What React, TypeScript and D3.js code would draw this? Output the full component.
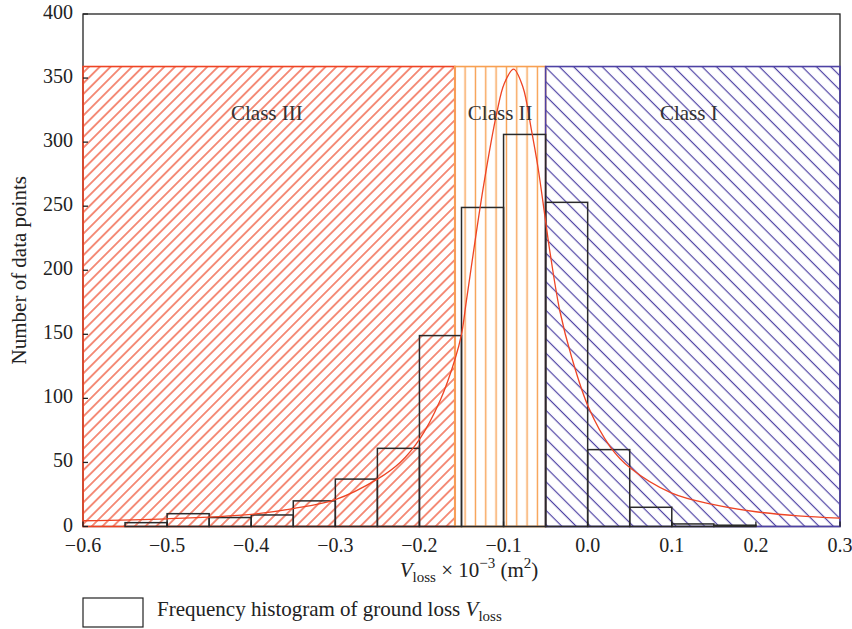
import React from "react";
import * as d3 from "d3";

// Histogram of ground loss (bin start, count), bin width 0.05
const binStarts = [-0.55, -0.5, -0.45, -0.4, -0.35, -0.3, -0.25, -0.2, -0.15, -0.1, -0.05, 0.0, 0.05, 0.1, 0.15];
const binCounts = [3, 10, 7, 9, 20, 37, 61, 149, 249, 306, 253, 60, 15, 2, 1];
const binWidth = 0.05;

// Fitted distribution curve
const fitX = [-0.6, -0.5, -0.4, -0.35, -0.3, -0.25, -0.223, -0.2, -0.175, -0.158, -0.15, -0.144, -0.124, -0.108, -0.099, -0.088, -0.077, -0.067, -0.059, -0.051, -0.045, -0.033, -0.019, 0.001, 0.027, 0.05, 0.1, 0.15, 0.2, 0.25, 0.3];
const fitY = [4.5, 6, 9.5, 14, 21, 37, 50, 68, 99, 130, 150, 177, 265, 323, 346, 357, 343, 310, 280, 243, 215, 168, 132, 93, 62, 46, 26, 17, 11.5, 8.3, 6.5];

// Classification zones
const classNames = ["Class III", "Class II", "Class I"];
const classStart = [-0.6, -0.158, -0.05];
const classEnd = [-0.158, -0.05, 0.3];
const classHeight = 359;

const xTicks = [-0.6, -0.5, -0.4, -0.3, -0.2, -0.1, 0.0, 0.1, 0.2, 0.3];
const yTicks = [0, 50, 100, 150, 200, 250, 300, 350, 400];

const W = 852;
const H = 629;
const FONT = "'Liberation Serif', 'DejaVu Serif', serif";

const RED = "#ee4424";
const ORANGE = "#f7a052";
const BLUE = "#4e42a4";

export default function App() {
  const x = d3.scaleLinear().domain([-0.6, 0.3]).range([83, 840]);
  const y = d3.scaleLinear().domain([0, 400]).range([526.5, 14]);
  const fmt = d3.format(".1f");

  const line = d3
    .line<number>()
    .x((_, i) => x(fitX[i]))
    .y((d) => y(d))
    .curve(d3.curveCatmullRom.alpha(0.5));

  const zoneFill = ["url(#hatchRed)", "url(#hatchOrange)", "url(#hatchBlue)"];
  const zoneStroke = [RED, ORANGE, BLUE];
  const labelShift = [-2, 0, -4];

  const orangeStep = 10.33;

  return (
    <svg
      width={W}
      height={H}
      style={{ position: "absolute", left: 0, top: 0, background: "#fff" }}
      fontFamily={FONT}
    >
      <defs>
        <pattern id="hatchRed" patternUnits="userSpaceOnUse" width={7.6} height={20} patternTransform="rotate(45)">
          <line x1={3.8} y1={0} x2={3.8} y2={20} stroke={RED} strokeWidth={1.2} />
        </pattern>
        <pattern
          id="hatchOrange"
          patternUnits="userSpaceOnUse"
          x={x(classStart[1]) - orangeStep / 2}
          width={orangeStep}
          height={20}
        >
          <line x1={orangeStep / 2} y1={0} x2={orangeStep / 2} y2={20} stroke={ORANGE} strokeWidth={1.4} />
        </pattern>
        <pattern id="hatchBlue" patternUnits="userSpaceOnUse" width={10.1} height={20} patternTransform="rotate(-45)">
          <line x1={5} y1={0} x2={5} y2={20} stroke={BLUE} strokeWidth={1.2} />
        </pattern>
      </defs>

      {/* plot frame */}
      <rect x={x(-0.6)} y={y(400)} width={x(0.3) - x(-0.6)} height={y(0) - y(400)} fill="none" stroke="#222" strokeWidth={1.3} />

      {/* classification zones */}
      {classNames.map((name, i) => (
        <rect
          key={name}
          x={x(classStart[i])}
          y={y(classHeight)}
          width={x(classEnd[i]) - x(classStart[i])}
          height={y(0) - y(classHeight)}
          fill={zoneFill[i]}
          stroke={zoneStroke[i]}
          strokeWidth={1.6}
        />
      ))}

      {/* histogram */}
      {binStarts.map((b, i) => (
        <rect
          key={b}
          x={x(b)}
          y={y(binCounts[i])}
          width={x(b + binWidth) - x(b)}
          height={y(0) - y(binCounts[i])}
          fill="none"
          stroke="#2a2a2a"
          strokeWidth={1.5}
        />
      ))}

      {/* fitted curve */}
      <path d={line(fitY) || ""} fill="none" stroke={RED} strokeWidth={1.3} />

      {/* zone labels */}
      {classNames.map((name, i) => (
        <text
          key={"l" + name}
          x={x((classStart[i] + classEnd[i]) / 2) + labelShift[i]}
          y={y(322) + 6}
          textAnchor="middle"
          fontSize={21}
          fill="#333"
        >
          {name}
        </text>
      ))}

      {/* y axis ticks */}
      {yTicks.map((t) => (
        <g key={"y" + t}>
          <line x1={x(-0.6)} x2={x(-0.6) + 5} y1={y(t)} y2={y(t)} stroke="#222" strokeWidth={1.3} />
          <text x={73} y={y(t) + 5} textAnchor="end" fontSize={20} fill="#222">
            {t}
          </text>
        </g>
      ))}

      {/* x axis ticks */}
      {xTicks.map((t) => (
        <g key={"x" + t}>
          <line x1={x(t)} x2={x(t)} y1={y(0)} y2={y(0) - 5} stroke="#222" strokeWidth={1.3} />
          <text x={x(t)} y={552} textAnchor="middle" fontSize={20} fill="#222">
            {fmt(t)}
          </text>
        </g>
      ))}

      {/* axis titles */}
      <text
        transform={`translate(26, ${y(200)}) rotate(-90)`}
        textAnchor="middle"
        fontSize={21}
        fill="#222"
      >
        Number of data points
      </text>
      <text x={469} y={577} textAnchor="middle" fontSize={21} fill="#222">
        <tspan fontStyle="italic">V</tspan>
        <tspan fontSize={15} dy={5}>loss</tspan>
        <tspan dy={-5}> × 10</tspan>
        <tspan fontSize={15} dy={-9}>−3</tspan>
        <tspan dy={9}> (m</tspan>
        <tspan fontSize={15} dy={-9}>2</tspan>
        <tspan dy={9}>)</tspan>
      </text>

      {/* legend */}
      <rect x={83} y={598} width={60} height={29} fill="none" stroke="#222" strokeWidth={1.2} />
      <text x={157} y={616} fontSize={21} fill="#222">
        Frequency histogram of ground loss <tspan fontStyle="italic">V</tspan>
        <tspan fontSize={15} dy={5}>loss</tspan>
      </text>
    </svg>
  );
}
